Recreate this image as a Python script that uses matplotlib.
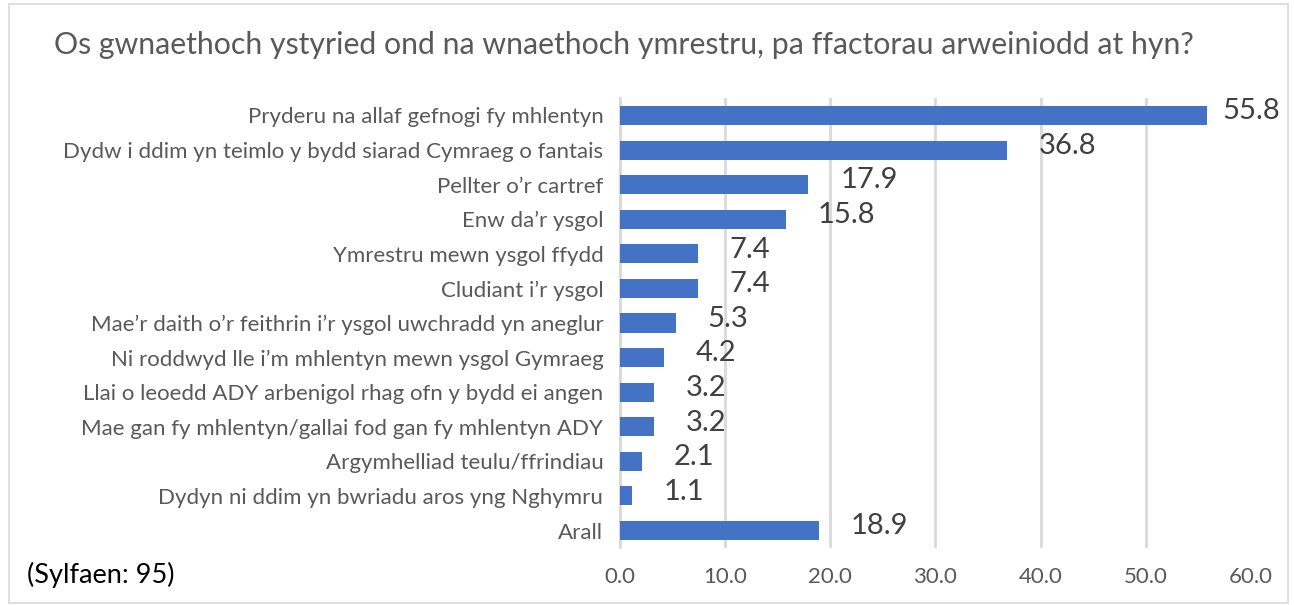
import matplotlib

matplotlib.use("Agg")
import matplotlib.pyplot as plt
from matplotlib.patches import Rectangle

categories = [
    "Pryderu na allaf gefnogi fy mhlentyn",
    "Dydw i ddim yn teimlo y bydd siarad Cymraeg o fantais",
    "Pellter o’r cartref",
    "Enw da’r ysgol",
    "Ymrestru mewn ysgol ffydd",
    "Cludiant i’r ysgol",
    "Mae’r daith o’r feithrin i’r ysgol uwchradd yn aneglur",
    "Ni roddwyd lle i’m mhlentyn mewn ysgol Gymraeg",
    "Llai o leoedd ADY arbenigol rhag ofn y bydd ei angen",
    "Mae gan fy mhlentyn/gallai fod gan fy mhlentyn ADY",
    "Argymhelliad teulu/ffrindiau",
    "Dydyn ni ddim yn bwriadu aros yng Nghymru",
    "Arall",
]
values = [55.8, 36.8, 17.9, 15.8, 7.4, 7.4, 5.3, 4.2, 3.2, 3.2, 2.1, 1.1, 18.9]
x_ticks = [0, 10, 20, 30, 40, 50, 60]
title = "Os gwnaethoch ystyried ond na wnaethoch ymrestru, pa ffactorau arweiniodd at hyn?"
base_note = "(Sylfaen: 95)"

bar_color = "#4472C4"
text_grey = "#595959"
grid_grey = "#D9D9D9"

plt.rcParams["font.family"] = ["Lato", "DejaVu Sans"]

fig = plt.figure(figsize=(12.94, 6.05), dpi=100)
ax = fig.add_axes([0.4791, 0.0945, 0.4876, 0.7432])

ypos = list(range(len(categories)))
ax.barh(ypos, values, height=0.55, color=bar_color, zorder=3)
for y, v in zip(ypos, values):
    # labels sit outside the bar end; pull the longest one in so it stays in the frame
    gap = 11 if v > 50 else 23
    ax.annotate(f"{v:.1f}", (v, y), xytext=(gap, 3), textcoords="offset points",
                va="center", ha="left", fontsize=21, color="#404040",
                annotation_clip=False)

ax.set_yticks(ypos)
ax.set_yticklabels(categories, fontsize=16, color=text_grey)
ax.set_ylim(len(categories) - 0.5, -0.5)
ax.set_xlim(0, 60)
ax.set_xticks(x_ticks)
ax.set_xticklabels([f"{t:.1f}" for t in x_ticks], fontsize=16, color=text_grey)
ax.tick_params(axis="both", length=0)
ax.tick_params(axis="x", pad=14)
ax.tick_params(axis="y", pad=12)

ax.xaxis.grid(True, color=grid_grey, linewidth=2, zorder=0)
ax.get_xgridlines()[-1].set_visible(False)
ax.set_axisbelow(True)
for side in ["top", "right", "bottom"]:
    ax.spines[side].set_visible(False)
ax.spines["left"].set_color(grid_grey)
ax.spines["left"].set_linewidth(1.5)

fig.text(0.482, 0.925, title, ha="center", va="center", fontsize=21.8, color=text_grey)
fig.text(0.021, 0.049, base_note, ha="left", va="center", fontsize=19.5, color="black")

fig.patches.append(Rectangle((0.007, 0.004), 0.988, 0.99, transform=fig.transFigure,
                             fill=False, edgecolor=grid_grey, linewidth=1.2))

fig.savefig("out.png", dpi=100)
plt.close(fig)
